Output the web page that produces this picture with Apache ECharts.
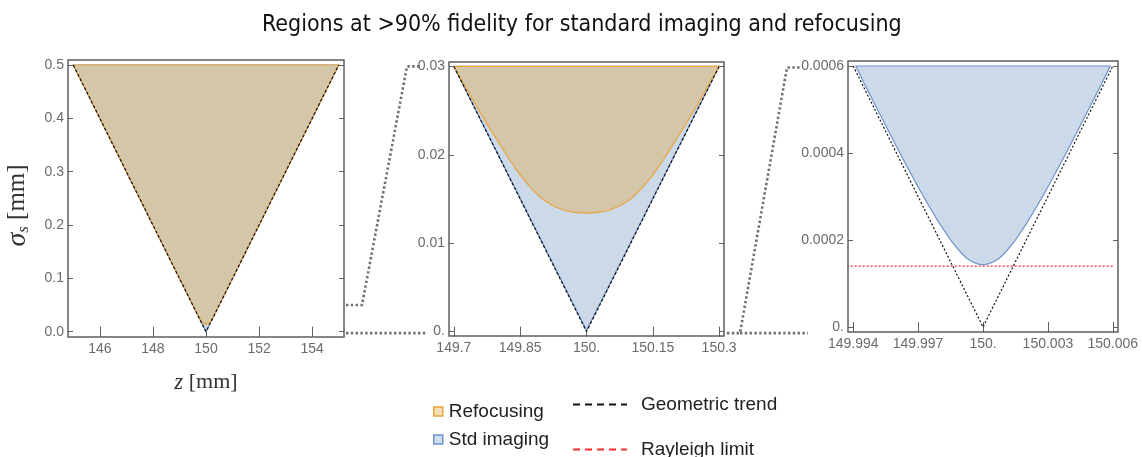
<!DOCTYPE html>
<html>
<head>
<meta charset="utf-8">
<script src="https://cdn.jsdelivr.net/npm/echarts@6/dist/echarts.min.js"></script>
<style>html,body{margin:0;padding:0;background:#fff}#c{width:1142px;height:457px}</style>
</head>
<body>
<div id="c"></div>
<script>
// ---------- data ----------
const titleText = 'Regions at >90% fidelity for standard imaging and refocusing';
const seriesNames = ['Refocusing', 'Std imaging', 'Geometric trend', 'Rayleigh limit'];

// Panel 1 (z in mm, sigma_s in mm)
const p1RefocZ = [145, 149.7, 149.85, 150, 150.15, 150.3, 155];
const p1RefocS = [0.5, 0.030, 0.0177, 0.0134, 0.0177, 0.030, 0.5];
const p1StdZ = [145, 150, 155];
const p1StdS = [0.5, 0.000143, 0.5];
const p1GeoZ = [145, 150, 155];
const p1GeoS = [0.5, 0, 0.5];

// Panel 2
const p2RefocZ = [149.7, 149.725, 149.75, 149.775, 149.8, 149.825, 149.85, 149.875, 149.9, 149.925, 149.95, 149.975, 150,
                  150.025, 150.05, 150.075, 150.1, 150.125, 150.15, 150.175, 150.2, 150.225, 150.25, 150.275, 150.3];
const p2RefocS = [0.0300, 0.0278, 0.0256, 0.0235, 0.0215, 0.0195, 0.0177, 0.0162, 0.0150, 0.0142, 0.0137, 0.01348, 0.0134,
                  0.01348, 0.0137, 0.0142, 0.0150, 0.0162, 0.0177, 0.0195, 0.0215, 0.0235, 0.0256, 0.0278, 0.0300];
const p2StdZ = [149.7, 150, 150.3];
const p2StdS = [0.03, 0.000143, 0.03];
const p2GeoZ = [149.7, 150, 150.3];
const p2GeoS = [0.03, 0, 0.03];

// Panel 3
const p3StdZ = [149.99412, 149.9945, 149.995, 149.9955, 149.996, 149.9965, 149.997, 149.9975, 149.998, 149.9985,
                149.99875, 149.999, 149.99925, 149.9995, 149.99975, 150,
                150.00025, 150.0005, 150.00075, 150.001, 150.00125, 150.0015, 150.002, 150.0025, 150.003, 150.0035,
                150.004, 150.0045, 150.005, 150.0055, 150.00588];
const p3StdS = [0.000600, 0.000561, 0.000512, 0.000463, 0.000415, 0.000368, 0.000322, 0.000278, 0.000237, 0.000200,
                0.000184, 0.000170, 0.000158, 0.000150, 0.000145, 0.000143,
                0.000145, 0.000150, 0.000158, 0.000170, 0.000184, 0.000200, 0.000237, 0.000278, 0.000322, 0.000368,
                0.000415, 0.000463, 0.000512, 0.000561, 0.000600];
const p3GeoZ = [149.994, 150, 150.006];
const p3GeoS = [0.0006, 0, 0.0006];
const p3RayZ = [149.9937, 150.006];
const p3RayS = [0.00014, 0.00014];

// axis ranges and ticks
const xRange = [[144.8, 155.2], [149.689, 150.311], [149.99376, 150.00624]];
const yRange = [[-0.0099, 0.5094], [-0.0005, 0.0305], [-0.0000115, 0.0006115]];
const xTicks = [[146, 148, 150, 152, 154], [149.7, 149.85, 150, 150.15, 150.3], [149.994, 149.997, 150, 150.003, 150.006]];
const xTickLabels = [['146', '148', '150', '152', '154'], ['149.7', '149.85', '150.', '150.15', '150.3'],
                     ['149.994', '149.997', '150.', '150.003', '150.006']];
const yTicks = [[0, 0.1, 0.2, 0.3, 0.4, 0.5], [0, 0.01, 0.02, 0.03], [0, 0.0002, 0.0004, 0.0006]];
const yTickLabels = [['0.0', '0.1', '0.2', '0.3', '0.4', '0.5'], ['0.', '0.01', '0.02', '0.03'], ['0.', '0.0002', '0.0004', '0.0006']];

// ---------- styling ----------
const COL = {
  refFill: '#d4c6a9', refLine: '#e9a43c', refLegend: '#f4dfbb',
  stdFill: '#ccd9e8', stdLine: '#6f92cb', stdLegend: '#d3deec',
  geo: '#111111', ray: '#ff2a2a', frame: '#5f5f5f', tick: '#6b6b6b'
};
const grids = [
  {left: 68, top: 60, width: 276, height: 277},
  {left: 449, top: 62, width: 275, height: 274},
  {left: 848, top: 61, width: 270, height: 271}
];

function zip(a, b) { return a.map((v, i) => [v, b[i]]); }
function labelMap(ticks, labels) { return v => { const i = ticks.findIndex(t => Math.abs(t - v) < 1e-9); return i >= 0 ? labels[i] : ''; }; }

function polygonSeries(name, gi, zs, ss, fill, stroke) {
  const pts = zip(zs, ss);
  return {
    type: 'custom', name, xAxisIndex: gi, yAxisIndex: gi, data: pts, encode: {x: 0, y: 1},
    silent: true, z: name === 'Refocusing' ? 3 : 2,
    renderItem: (params, api) => {
      if (params.dataIndex !== 0) return null;
      return {type: 'polygon', shape: {points: pts.map(p => api.coord(p))},
              style: {fill, stroke, lineWidth: 1.2}};
    }
  };
}
function lineSeries(name, gi, zs, ss, color, dash) {
  return {type: 'line', name, xAxisIndex: gi, yAxisIndex: gi, data: zip(zs, ss), symbol: 'none', silent: true,
          z: 5, lineStyle: {color, width: 1.2, type: dash}, itemStyle: {color}};
}

const labelFont = {color: COL.tick, fontSize: 14, fontFamily: 'Liberation Sans'};
const xAxes = [], yAxes = [];
for (let i = 0; i < 3; i++) {
  xAxes.push({type: 'value', gridIndex: i, min: xRange[i][0], max: xRange[i][1], position: 'bottom',
    axisLine: {show: false}, splitLine: {show: false},
    axisTick: {show: true, inside: true, length: 5, customValues: xTicks[i], lineStyle: {color: COL.frame}},
    axisLabel: Object.assign({customValues: xTicks[i], formatter: labelMap(xTicks[i], xTickLabels[i]), margin: 5, hideOverlap: false}, labelFont),
    name: i === 0 ? '{i|z} [mm]' : '', nameLocation: 'middle', nameGap: 34,
    nameTextStyle: {fontFamily: 'Liberation Serif', fontSize: 22, color: '#333',
      rich: {i: {fontFamily: 'Liberation Serif', fontStyle: 'italic', fontSize: 23, color: '#333'}}}
  });
  yAxes.push({type: 'value', gridIndex: i, min: yRange[i][0], max: yRange[i][1], position: 'left',
    axisLine: {show: false}, splitLine: {show: false},
    axisTick: {show: true, inside: true, length: 5, customValues: yTicks[i], lineStyle: {color: COL.frame}},
    axisLabel: Object.assign({customValues: yTicks[i], formatter: labelMap(yTicks[i], yTickLabels[i]), margin: 4, hideOverlap: false}, labelFont),
    name: i === 0 ? '{g|σ}{s|s} [mm]' : '', nameLocation: 'middle', nameGap: 36, nameRotate: 90,
    nameTextStyle: {fontFamily: 'Liberation Serif', fontSize: 25, color: '#333', padding: [0, 14, 0, 0],
      rich: {g: {fontFamily: 'Liberation Serif', fontStyle: 'italic', fontSize: 28, color: '#333'},
             s: {fontFamily: 'Liberation Serif', fontStyle: 'italic', fontSize: 17, color: '#333', padding: [12, 0, 0, 0]}}}
  });
}
// mirrored tick axes (top / right) for the framed look
for (let i = 0; i < 3; i++) {
  xAxes.push({type: 'value', gridIndex: i, min: xRange[i][0], max: xRange[i][1], position: 'top',
    axisLine: {show: false}, splitLine: {show: false}, axisLabel: {show: false},
    axisTick: {show: true, inside: true, length: 5, customValues: xTicks[i], lineStyle: {color: COL.frame}}});
  yAxes.push({type: 'value', gridIndex: i, min: yRange[i][0], max: yRange[i][1], position: 'right',
    axisLine: {show: false}, splitLine: {show: false}, axisLabel: {show: false},
    axisTick: {show: true, inside: true, length: 5, customValues: yTicks[i], lineStyle: {color: COL.frame}}});
}

const series = [
  polygonSeries('Std imaging', 0, p1StdZ, p1StdS, COL.stdFill, COL.stdLine),
  polygonSeries('Refocusing', 0, p1RefocZ, p1RefocS, COL.refFill, COL.refLine),
  lineSeries('Geometric trend', 0, p1GeoZ, p1GeoS, COL.geo, [3, 2]),
  polygonSeries('Std imaging', 1, p2StdZ, p2StdS, COL.stdFill, COL.stdLine),
  polygonSeries('Refocusing', 1, p2RefocZ, p2RefocS, COL.refFill, COL.refLine),
  lineSeries('Geometric trend', 1, p2GeoZ, p2GeoS, COL.geo, [3, 2]),
  polygonSeries('Std imaging', 2, p3StdZ, p3StdS, COL.stdFill, COL.stdLine),
  lineSeries('Geometric trend', 2, p3GeoZ, p3GeoS, COL.geo, [2, 2]),
  lineSeries('Rayleigh limit', 2, p3RayZ, p3RayS, COL.ray, [2, 2])
];

const legendText = {fontFamily: 'Liberation Sans', fontSize: 19, color: '#222'};
const dashIcon = 'path://M0 0h7v2h-7z M12 0h7v2h-7z M24 0h7v2h-7z M36 0h7v2h-7z M48 0h6v2h-6z';
function boxLegend(name, top, fill, border) {
  return {left: 433, top, padding: 0, itemWidth: 9, itemHeight: 9, selectedMode: false, textStyle: Object.assign({padding: [0, 0, 0, 1]}, legendText),
    data: [{name, icon: 'rect', itemStyle: {color: fill, borderColor: border, borderWidth: 1.5}}]};
}
function dashLegend(name, top, color) {
  return {left: 573, top, padding: 0, itemWidth: 54, itemHeight: 2, selectedMode: false, textStyle: Object.assign({padding: [0, 0, 0, 9]}, legendText),
    data: [{name, icon: dashIcon, itemStyle: {color, borderWidth: 0}}]};
}

const chart = echarts.init(document.getElementById('c'), null, {renderer: 'canvas'});
chart.setOption({
  animation: false,
  backgroundColor: '#fff',
  title: {text: titleText, left: 257, top: 9,
    textStyle: {fontFamily: '"DejaVu Sans Condensed", "Liberation Sans"', fontSize: 23, fontWeight: 'normal', color: '#111'}},
  grid: grids.map(g => Object.assign({show: true, borderColor: COL.frame, borderWidth: 1.5, backgroundColor: 'transparent', z: 10}, g)),
  xAxis: xAxes,
  yAxis: yAxes,
  legend: [
    boxLegend(seriesNames[0], 402, COL.refLegend, COL.refLine),
    boxLegend(seriesNames[1], 430, COL.stdLegend, COL.stdLine),
    dashLegend(seriesNames[2], 395, '#111'),
    dashLegend(seriesNames[3], 440, COL.ray)
  ],
  series
});

// zoom connectors, anchored on the axes' own scales
function px(gi, x, y) { return chart.convertToPixel({xAxisIndex: gi, yAxisIndex: gi}, [x, y]); }
const a0 = px(0, xRange[0][1], 0.05), b0 = px(1, xRange[1][0], 0.03), b1 = px(1, xRange[1][0], 0);
const c0 = px(1, xRange[1][1], 0), d0 = px(2, xRange[2][0], 0.0006);
const dotted = {stroke: '#707070', lineWidth: 2.6, lineDash: [2.4, 2.4], fill: null};
chart.setOption({graphic: [
  {type: 'polyline', silent: true, shape: {points: [[a0[0] + 2, a0[1]], [a0[0] + 18, a0[1]], [b0[0] - 42, b0[1]], [b0[0] - 29, b0[1]]]}, style: dotted},
  {type: 'polyline', silent: true, shape: {points: [[a0[0] + 2, b1[1] + 1.5], [b1[0] - 22, b1[1] + 1.5]]}, style: dotted},
  {type: 'polyline', silent: true, shape: {points: [[c0[0] + 3, c0[1] + 1.5], [c0[0] + 16, c0[1] + 1.5], [d0[0] - 61, d0[1] + 1.5], [d0[0] - 46, d0[1] + 1.5]]}, style: dotted},
  {type: 'polyline', silent: true, shape: {points: [[c0[0] + 16, c0[1] + 1.5], [d0[0] - 40, c0[1] + 1.5]]}, style: dotted}
]});
</script>
</body>
</html>
